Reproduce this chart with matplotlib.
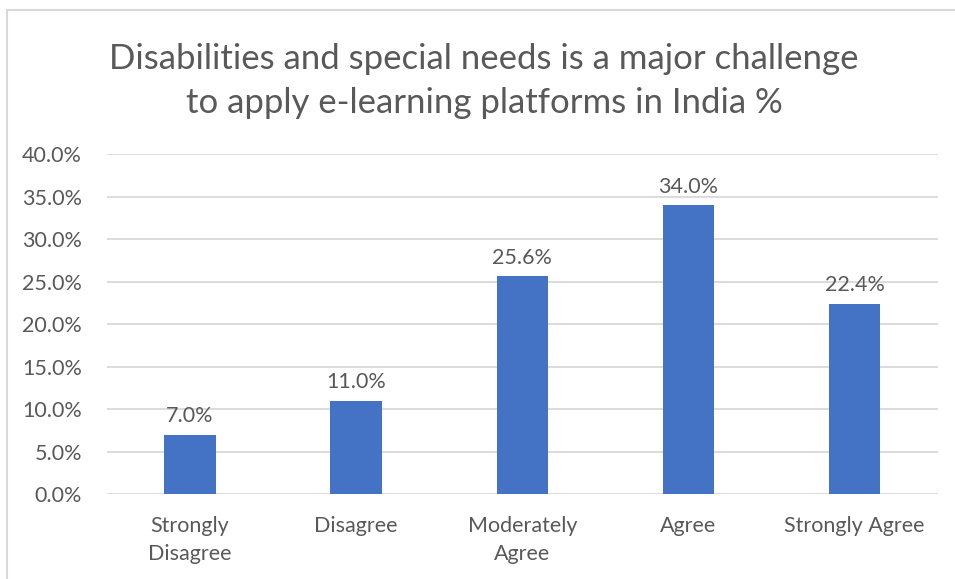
import matplotlib.pyplot as plt
from matplotlib.patches import Rectangle
from matplotlib.ticker import FuncFormatter

plt.rcParams['font.family'] = ['Lato', 'DejaVu Sans']

categories = ['Strongly\nDisagree', 'Disagree', 'Moderately\nAgree', 'Agree', 'Strongly Agree']
values = [7.0, 11.0, 25.6, 34.0, 22.4]
title = 'Disabilities and special needs is a major challenge\nto apply e-learning platforms in India %'

text_col = '#595959'
grid_col = '#D9D9D9'
bar_col = '#4472C4'

fig = plt.figure(figsize=(9.55, 5.79), dpi=100)
ax = fig.add_axes([0.112, 0.1468, 0.870, 0.5872])

x = range(len(categories))
ax.bar(x, values, width=0.31, color=bar_col, zorder=3)
for xi, v in zip(x, values):
    ax.annotate(f'{v:.1f}%', (xi, v), xytext=(0, 6), textcoords='offset points',
                ha='center', va='bottom', fontsize=15.5, color=text_col)

ax.set_xlim(-0.5, len(categories) - 0.5)
ax.set_ylim(0, 40)
ax.set_yticks(range(0, 41, 5))
ax.yaxis.set_major_formatter(FuncFormatter(lambda v, p: f'{v:.1f}%'))
ax.set_xticks(list(x))
ax.set_xticklabels(categories, linespacing=1.5)
ax.tick_params(axis='both', length=0, labelsize=15.5, labelcolor=text_col)
ax.tick_params(axis='x', pad=16)
ax.tick_params(axis='y', pad=18)
ax.grid(axis='y', color=grid_col, linewidth=1.3, zorder=0)
for s in ax.spines.values():
    s.set_visible(False)

fig.text(0.507, 0.860, title, ha='center', va='center', fontsize=25,
         color=text_col, linespacing=1.45)

# chart area border (runs off the right and bottom edges)
fig.patches.append(Rectangle((7 / 955, -0.05), 1.0, 1 - 10 / 579 + 0.05,
                             transform=fig.transFigure, fill=False,
                             edgecolor=grid_col, linewidth=1.5))

fig.savefig('out.png', dpi=100)
